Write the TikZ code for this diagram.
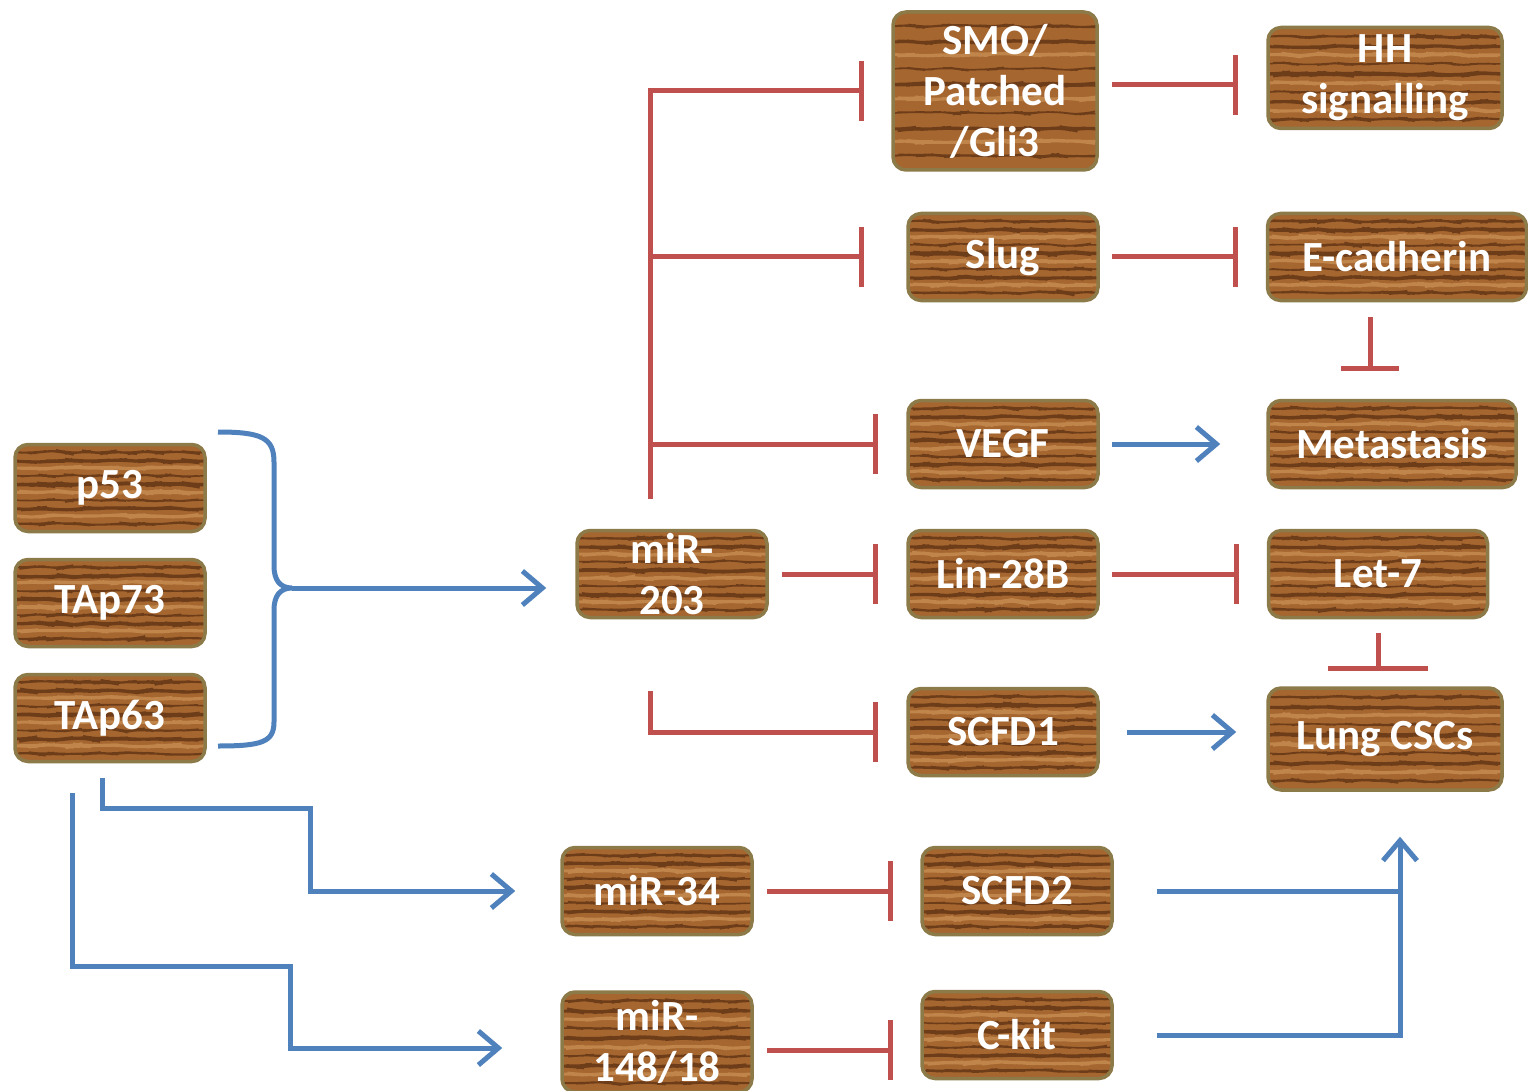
\documentclass[tikz,border=0pt]{standalone}
\usepackage{fontspec}
\setmainfont{Carlito}
\usetikzlibrary{arrows.meta,calc,positioning,decorations.pathmorphing}

\definecolor{woodbase}{RGB}{166,102,48}
\definecolor{woodgrain}{RGB}{90,46,16}
\definecolor{woodlight}{RGB}{200,144,84}
\definecolor{woodrim}{RGB}{140,122,72}
\definecolor{actblue}{RGB}{79,129,189}
\definecolor{inhred}{RGB}{192,80,77}

\tikzset{
  wood/.style={rounded corners=13pt, draw=woodrim, line width=3.5pt, fill=woodbase,
    text=white, font=\bfseries\fontsize{43}{51}\selectfont, align=center, inner sep=0pt,
    minimum width=190pt, minimum height=87pt,
    path picture={
      \foreach \f/\w/\c in {0.09/2/woodgrain,0.18/3/woodlight,0.26/3/woodgrain,0.36/1.5/woodgrain,
        0.45/3/woodlight,0.54/3.5/woodgrain,0.64/1.5/woodgrain,0.73/3/woodlight,0.81/3/woodgrain,0.91/2/woodgrain}
        \draw[draw=\c, line width=\w pt, opacity=.75, decorate,
              decoration={random steps, segment length=9pt, amplitude=1.2pt}]
          ($(path picture bounding box.south west)!\f!(path picture bounding box.north west)$) --
          ($(path picture bounding box.south east)!\f!(path picture bounding box.north east)$);
    }},
  act/.style={draw=actblue, line width=5pt, -{Straight Barb[length=20pt,width=34pt]}},
  bline/.style={draw=actblue, line width=5pt},
  inhib/.style={draw=inhred, line width=5pt, -{Bar[width=60pt]}},
}

\begin{document}
\begin{tikzpicture}[x=1pt,y=-1pt]
\useasboundingbox[fill=white] (0,0) rectangle (1528,1091);

% p53 family
\node[wood] (p53) at (110,488) {p53};
\node[wood] (tap73) at (110,603) {TAp73};
\node[wood] (tap63) at (110,718) {TAp63};

% microRNAs
\node[wood] (mir203) at (672,574) {miR-\\203};
\node[wood] (mir34) at (657,891) {miR-34};
\node[wood, minimum height=100pt] (mir148) at (657,1042) {miR-\\148/18};

% targets
\node[wood, minimum width=204pt, minimum height=158pt] (smo) at (995,91) {SMO/\\Patched\\/Gli3};
\node[wood] (slug) at (1003,257) {Slug};
\node[wood] (vegf) at (1003,444) {VEGF};
\node[wood] (lin) at (1003,574) {Lin-28B};
\node[wood] (scfd1) at (1003,732) {SCFD1};
\node[wood] (scfd2) at (1017,891) {SCFD2};
\node[wood] (ckit) at (1017,1035) {C-kit};

% outcomes
\node[wood, minimum width=234pt, minimum height=101pt] (hh) at (1385,78) {HH\\signalling};
\node[wood, minimum width=259pt] (ecad) at (1397,257) {E-cadherin};
\node[wood, minimum width=248pt] (meta) at (1392,444) {Metastasis};
\node[wood, minimum width=219pt] (let7) at (1378,574) {Let-7};
\node[wood, minimum width=234pt, minimum height=102pt] (lung) at (1385,739) {Lung CSCs};

% brace
\draw[bline] (218,432) .. controls (262,432) and (274,438) .. (274,462) -- (274,566)
  .. controls (274,580) and (280,588) .. (292,588)
  .. controls (280,588) and (274,596) .. (274,610) -- (274,722)
  .. controls (274,742) and (262,746) .. (218,746);
\coordinate (brace) at (292,588);
\draw[act, shorten >=29pt] (brace) -- (brace -| mir203.west);

% miR-203 branches
\coordinate (trunk) at ([xshift=-22pt]mir203.north);
\draw[inhib, shorten <=30pt, shorten >=27pt] (trunk) |- (smo);
\draw[inhib, shorten >=42pt] (trunk |- slug) -- (slug);
\draw[inhib, shorten >=28pt] (trunk |- vegf) -- (vegf);
\draw[inhib, shorten <=13pt, shorten >=28pt] (mir203) -- (lin);
\draw[inhib, shorten <=72pt, shorten >=28pt] ([xshift=-22pt]mir203.south) |- (scfd1);

% second column
\draw[inhib, shorten <=13pt, shorten >=28pt] ([yshift=6pt]smo.east) -- ([yshift=6pt]smo.east -| hh.west);
\draw[inhib, shorten <=12pt, shorten >=28pt] (slug) -- (ecad);
\draw[act, shorten <=12pt, shorten >=46pt] (vegf) -- (meta);
\draw[inhib, shorten <=12pt, shorten >=28pt] (lin) -- (let7);
\draw[act, shorten <=27pt, shorten >=30pt] (scfd1) -- (scfd1 -| lung.west);
\draw[inhib, -{Bar[width=58pt]}, shorten <=15pt, shorten >=28pt] ([xshift=-27pt]ecad.south) -- ([xshift=-27pt]ecad.south |- meta.north);
\draw[inhib, -{Bar[width=100pt]}, shorten <=14pt, shorten >=15pt] (let7.south) -- (let7.south |- lung.north);

% lower routes
\draw[act, shorten <=15pt, shorten >=45pt] ([xshift=-8pt]tap63.south) |- ++(208,45) |- (mir34);
\draw[act, shorten <=30pt, shorten >=58pt] ([xshift=-38pt]tap63.south) |- ++(218,203) |- ([yshift=-6pt]mir148.west);
\draw[inhib, shorten <=13pt, shorten >=27pt] (mir34) -- (scfd2);
\draw[inhib, shorten <=13pt, shorten >=27pt] ([yshift=-8pt]mir148.east) -- ([yshift=-8pt]mir148.east -| ckit.west);
\coordinate (join) at ([xshift=15pt]lung.south);
\draw[bline, shorten <=43pt] (scfd2) -- (scfd2 -| join);
\draw[act, shorten <=43pt, shorten >=45pt] (ckit) -| (join);

\end{tikzpicture}
\end{document}
